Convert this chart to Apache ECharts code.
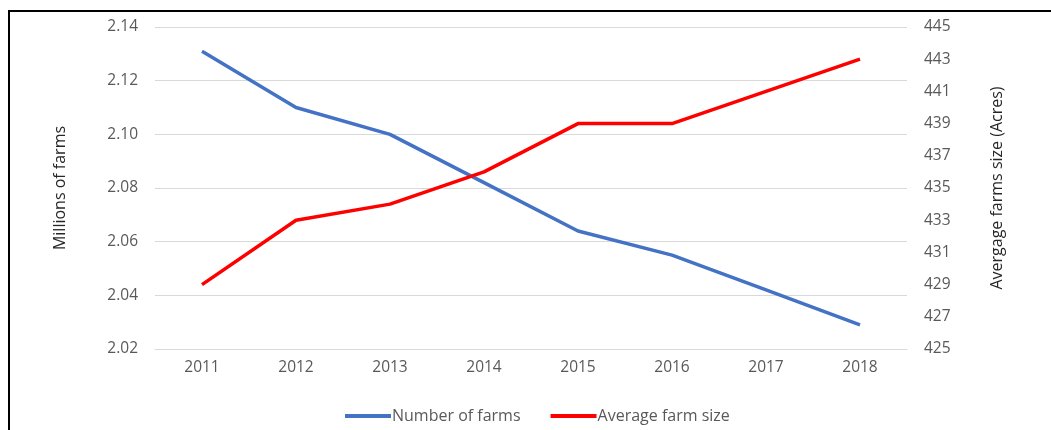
<!DOCTYPE html>
<html><head><meta charset="utf-8">
<script src="https://cdn.jsdelivr.net/npm/echarts@6/dist/echarts.min.js"></script>
<style>
html,body{margin:0;padding:0;background:#fff;}
#c{width:1051px;height:430px;}
#frame{position:absolute;left:8px;top:10px;width:1043px;height:420px;border-left:2px solid #000;border-top:2px solid #000;pointer-events:none;}
</style></head>
<body>
<div id="c"></div>
<div id="frame"></div>
<script>
const years = ['2011','2012','2013','2014','2015','2016','2017','2018'];
const numberOfFarms = [2.131, 2.110, 2.100, 2.082, 2.064, 2.055, 2.042, 2.029];
const averageFarmSize = [429, 433, 434, 436, 439, 439, 441, 443];
const leftAxisName = 'Millions of farms';
const rightAxisName = 'Avergage farms size (Acres)';

const FONT = 'Open Sans';
const chart = echarts.init(document.getElementById('c'));
chart.setOption({
  animation: false,
  textStyle: {fontFamily: FONT},
  grid: {left: 155, right: 144, top: 27, bottom: 81, containLabel: false},
  legend: {
    bottom: 1, left: 340,
    itemWidth: 46, itemHeight: 4, itemGap: 30,
    icon: 'rect',
    textStyle: {fontFamily: FONT, fontSize: 16, color: '#595959', padding: [0,0,0,-4]},
    data: ['Number of farms', 'Average farm size']
  },
  xAxis: {
    type: 'category', data: years, boundaryGap: true,
    axisLine: {show: true, lineStyle: {color: '#d9d9d9'}},
    axisTick: {show: false},
    axisLabel: {color: '#595959', fontSize: 15.5, margin: 11, fontFamily: FONT}
  },
  yAxis: [{
    type: 'value', min: 2.02, max: 2.14, interval: 0.02,
    name: leftAxisName, nameLocation: 'middle', nameGap: 87, nameRotate: 90,
    nameTextStyle: {color: '#262626', fontSize: 16, fontFamily: FONT},
    axisLine: {show: false}, axisTick: {show: false},
    axisLabel: {color: '#595959', fontSize: 15.5, margin: 17, fontFamily: FONT,
      formatter: v => v.toFixed(2)},
    splitLine: {lineStyle: {color: '#d9d9d9', width: 1}}
  }, {
    type: 'value', min: 425, max: 445, interval: 2, position: 'right',
    name: rightAxisName, nameLocation: 'middle', nameGap: 82, nameRotate: 90,
    nameTextStyle: {color: '#262626', fontSize: 16, fontFamily: FONT},
    axisLine: {show: false}, axisTick: {show: false},
    axisLabel: {color: '#595959', fontSize: 15.5, margin: 17, fontFamily: FONT},
    splitLine: {show: false}
  }],
  series: [{
    name: 'Number of farms', type: 'line', yAxisIndex: 0, data: numberOfFarms,
    showSymbol: false, symbol: 'none',
    lineStyle: {color: '#4472C4', width: 3.5}, itemStyle: {color: '#4472C4'}
  }, {
    name: 'Average farm size', type: 'line', yAxisIndex: 1, data: averageFarmSize,
    showSymbol: false, symbol: 'none',
    lineStyle: {color: '#FF0000', width: 3.5}, itemStyle: {color: '#FF0000'}
  }]
});
</script>
</body></html>
